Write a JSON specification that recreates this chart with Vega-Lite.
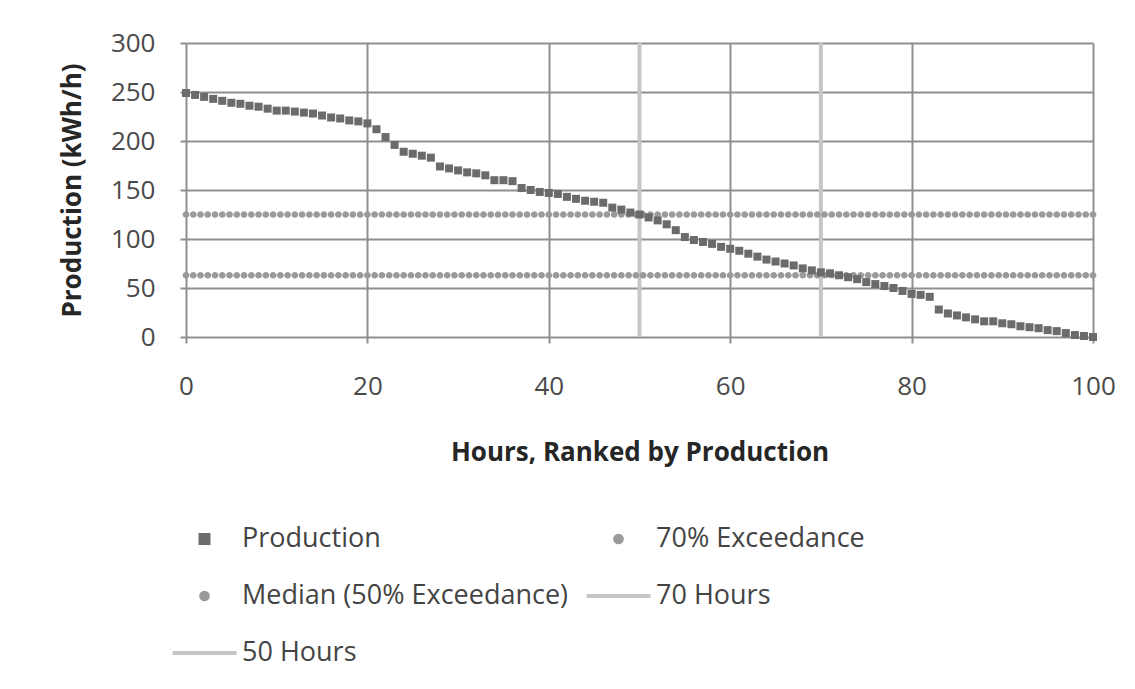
{
  "$schema": "https://vega.github.io/schema/vega-lite/v6.json",
  "width": 907,
  "height": 294,
  "autosize": {"type": "none"},
  "padding": {"left": 186, "top": 43, "right": 42, "bottom": 352},
  "background": "white",
  "config": {
    "font": "Open Sans",
    "view": {"stroke": null},
    "axis": {
      "grid": true,
      "gridColor": "#8f8f8f",
      "gridWidth": 2,
      "tickColor": "#8f8f8f",
      "tickWidth": 2,
      "tickSize": 6,
      "domain": false,
      "labelFont": "Open Sans",
      "labelFontSize": 26,
      "labelColor": "#4a4a4a",
      "labelFlush": false,
      "titleFont": "Open Sans",
      "titleFontSize": 26,
      "titleFontWeight": "bold",
      "titleColor": "#262626"
    },
    "legend": {
      "orient": "none",
      "direction": "horizontal",
      "legendX": -15.5,
      "legendY": 462,
      "columns": 2,
      "columnPadding": 10,
      "rowPadding": 10,
      "labelFont": "Open Sans",
      "labelFontSize": 27,
      "labelColor": "#444444",
      "labelOffset": 3.5,
      "labelLimit": 0,
      "padding": 0,
      "symbolSize": 4096,
      "symbolStrokeWidth": 4
    }
  },
  "datasets": {
    "hours": [
      {"h": 70, "s": "70 Hours"},
      {"h": 50, "s": "50 Hours"}
    ],
    "production": [
      {"h": 0, "v": 249}, {"h": 1, "v": 247}, {"h": 2, "v": 245}, {"h": 3, "v": 243}, {"h": 4, "v": 241},
      {"h": 5, "v": 239}, {"h": 6, "v": 238}, {"h": 7, "v": 236}, {"h": 8, "v": 235}, {"h": 9, "v": 233},
      {"h": 10, "v": 231}, {"h": 11, "v": 231}, {"h": 12, "v": 230}, {"h": 13, "v": 229}, {"h": 14, "v": 228},
      {"h": 15, "v": 226}, {"h": 16, "v": 224}, {"h": 17, "v": 223}, {"h": 18, "v": 221}, {"h": 19, "v": 220},
      {"h": 20, "v": 218}, {"h": 21, "v": 212}, {"h": 22, "v": 204}, {"h": 23, "v": 196}, {"h": 24, "v": 189},
      {"h": 25, "v": 187}, {"h": 26, "v": 185}, {"h": 27, "v": 183}, {"h": 28, "v": 174}, {"h": 29, "v": 172},
      {"h": 30, "v": 170}, {"h": 31, "v": 168}, {"h": 32, "v": 167}, {"h": 33, "v": 165}, {"h": 34, "v": 160},
      {"h": 35, "v": 160}, {"h": 36, "v": 159}, {"h": 37, "v": 152}, {"h": 38, "v": 150}, {"h": 39, "v": 148},
      {"h": 40, "v": 147}, {"h": 41, "v": 146}, {"h": 42, "v": 143}, {"h": 43, "v": 141}, {"h": 44, "v": 139},
      {"h": 45, "v": 138}, {"h": 46, "v": 137}, {"h": 47, "v": 132}, {"h": 48, "v": 130}, {"h": 49, "v": 127},
      {"h": 50, "v": 125}, {"h": 51, "v": 122}, {"h": 52, "v": 119}, {"h": 53, "v": 115}, {"h": 54, "v": 109},
      {"h": 55, "v": 102}, {"h": 56, "v": 99}, {"h": 57, "v": 97}, {"h": 58, "v": 95}, {"h": 59, "v": 92},
      {"h": 60, "v": 90}, {"h": 61, "v": 88}, {"h": 62, "v": 85}, {"h": 63, "v": 82}, {"h": 64, "v": 79},
      {"h": 65, "v": 77}, {"h": 66, "v": 75}, {"h": 67, "v": 73}, {"h": 68, "v": 70}, {"h": 69, "v": 68},
      {"h": 70, "v": 66}, {"h": 71, "v": 65}, {"h": 72, "v": 63}, {"h": 73, "v": 61}, {"h": 74, "v": 59},
      {"h": 75, "v": 56}, {"h": 76, "v": 54}, {"h": 77, "v": 52}, {"h": 78, "v": 50}, {"h": 79, "v": 47},
      {"h": 80, "v": 44}, {"h": 81, "v": 43}, {"h": 82, "v": 41}, {"h": 83, "v": 28}, {"h": 84, "v": 24},
      {"h": 85, "v": 22}, {"h": 86, "v": 20}, {"h": 87, "v": 18}, {"h": 88, "v": 16}, {"h": 89, "v": 16},
      {"h": 90, "v": 14}, {"h": 91, "v": 13}, {"h": 92, "v": 11}, {"h": 93, "v": 10}, {"h": 94, "v": 9},
      {"h": 95, "v": 7}, {"h": 96, "v": 6}, {"h": 97, "v": 4}, {"h": 98, "v": 2}, {"h": 99, "v": 1},
      {"h": 100, "v": 0}
    ],
    "median": [
      {"h": 0, "v": 125}, {"h": 0.8, "v": 125}, {"h": 1.6, "v": 125}, {"h": 2.4, "v": 125}, {"h": 3.2, "v": 125},
      {"h": 4, "v": 125}, {"h": 4.8, "v": 125}, {"h": 5.6, "v": 125}, {"h": 6.4, "v": 125}, {"h": 7.2, "v": 125},
      {"h": 8, "v": 125}, {"h": 8.8, "v": 125}, {"h": 9.6, "v": 125}, {"h": 10.4, "v": 125}, {"h": 11.2, "v": 125},
      {"h": 12, "v": 125}, {"h": 12.8, "v": 125}, {"h": 13.6, "v": 125}, {"h": 14.4, "v": 125}, {"h": 15.2, "v": 125},
      {"h": 16, "v": 125}, {"h": 16.8, "v": 125}, {"h": 17.6, "v": 125}, {"h": 18.4, "v": 125}, {"h": 19.2, "v": 125},
      {"h": 20, "v": 125}, {"h": 20.8, "v": 125}, {"h": 21.6, "v": 125}, {"h": 22.4, "v": 125}, {"h": 23.2, "v": 125},
      {"h": 24, "v": 125}, {"h": 24.8, "v": 125}, {"h": 25.6, "v": 125}, {"h": 26.4, "v": 125}, {"h": 27.2, "v": 125},
      {"h": 28, "v": 125}, {"h": 28.8, "v": 125}, {"h": 29.6, "v": 125}, {"h": 30.4, "v": 125}, {"h": 31.2, "v": 125},
      {"h": 32, "v": 125}, {"h": 32.8, "v": 125}, {"h": 33.6, "v": 125}, {"h": 34.4, "v": 125}, {"h": 35.2, "v": 125},
      {"h": 36, "v": 125}, {"h": 36.8, "v": 125}, {"h": 37.6, "v": 125}, {"h": 38.4, "v": 125}, {"h": 39.2, "v": 125},
      {"h": 40, "v": 125}, {"h": 40.8, "v": 125}, {"h": 41.6, "v": 125}, {"h": 42.4, "v": 125}, {"h": 43.2, "v": 125},
      {"h": 44, "v": 125}, {"h": 44.8, "v": 125}, {"h": 45.6, "v": 125}, {"h": 46.4, "v": 125}, {"h": 47.2, "v": 125},
      {"h": 48, "v": 125}, {"h": 48.8, "v": 125}, {"h": 49.6, "v": 125}, {"h": 50.4, "v": 125}, {"h": 51.2, "v": 125},
      {"h": 52, "v": 125}, {"h": 52.8, "v": 125}, {"h": 53.6, "v": 125}, {"h": 54.4, "v": 125}, {"h": 55.2, "v": 125},
      {"h": 56, "v": 125}, {"h": 56.8, "v": 125}, {"h": 57.6, "v": 125}, {"h": 58.4, "v": 125}, {"h": 59.2, "v": 125},
      {"h": 60, "v": 125}, {"h": 60.8, "v": 125}, {"h": 61.6, "v": 125}, {"h": 62.4, "v": 125}, {"h": 63.2, "v": 125},
      {"h": 64, "v": 125}, {"h": 64.8, "v": 125}, {"h": 65.6, "v": 125}, {"h": 66.4, "v": 125}, {"h": 67.2, "v": 125},
      {"h": 68, "v": 125}, {"h": 68.8, "v": 125}, {"h": 69.6, "v": 125}, {"h": 70.4, "v": 125}, {"h": 71.2, "v": 125},
      {"h": 72, "v": 125}, {"h": 72.8, "v": 125}, {"h": 73.6, "v": 125}, {"h": 74.4, "v": 125}, {"h": 75.2, "v": 125},
      {"h": 76, "v": 125}, {"h": 76.8, "v": 125}, {"h": 77.6, "v": 125}, {"h": 78.4, "v": 125}, {"h": 79.2, "v": 125},
      {"h": 80, "v": 125}, {"h": 80.8, "v": 125}, {"h": 81.6, "v": 125}, {"h": 82.4, "v": 125}, {"h": 83.2, "v": 125},
      {"h": 84, "v": 125}, {"h": 84.8, "v": 125}, {"h": 85.6, "v": 125}, {"h": 86.4, "v": 125}, {"h": 87.2, "v": 125},
      {"h": 88, "v": 125}, {"h": 88.8, "v": 125}, {"h": 89.6, "v": 125}, {"h": 90.4, "v": 125}, {"h": 91.2, "v": 125},
      {"h": 92, "v": 125}, {"h": 92.8, "v": 125}, {"h": 93.6, "v": 125}, {"h": 94.4, "v": 125}, {"h": 95.2, "v": 125},
      {"h": 96, "v": 125}, {"h": 96.8, "v": 125}, {"h": 97.6, "v": 125}, {"h": 98.4, "v": 125}, {"h": 99.2, "v": 125},
      {"h": 100, "v": 125}
    ],
    "e70": [
      {"h": 0, "v": 63}, {"h": 0.8, "v": 63}, {"h": 1.6, "v": 63}, {"h": 2.4, "v": 63}, {"h": 3.2, "v": 63},
      {"h": 4, "v": 63}, {"h": 4.8, "v": 63}, {"h": 5.6, "v": 63}, {"h": 6.4, "v": 63}, {"h": 7.2, "v": 63},
      {"h": 8, "v": 63}, {"h": 8.8, "v": 63}, {"h": 9.6, "v": 63}, {"h": 10.4, "v": 63}, {"h": 11.2, "v": 63},
      {"h": 12, "v": 63}, {"h": 12.8, "v": 63}, {"h": 13.6, "v": 63}, {"h": 14.4, "v": 63}, {"h": 15.2, "v": 63},
      {"h": 16, "v": 63}, {"h": 16.8, "v": 63}, {"h": 17.6, "v": 63}, {"h": 18.4, "v": 63}, {"h": 19.2, "v": 63},
      {"h": 20, "v": 63}, {"h": 20.8, "v": 63}, {"h": 21.6, "v": 63}, {"h": 22.4, "v": 63}, {"h": 23.2, "v": 63},
      {"h": 24, "v": 63}, {"h": 24.8, "v": 63}, {"h": 25.6, "v": 63}, {"h": 26.4, "v": 63}, {"h": 27.2, "v": 63},
      {"h": 28, "v": 63}, {"h": 28.8, "v": 63}, {"h": 29.6, "v": 63}, {"h": 30.4, "v": 63}, {"h": 31.2, "v": 63},
      {"h": 32, "v": 63}, {"h": 32.8, "v": 63}, {"h": 33.6, "v": 63}, {"h": 34.4, "v": 63}, {"h": 35.2, "v": 63},
      {"h": 36, "v": 63}, {"h": 36.8, "v": 63}, {"h": 37.6, "v": 63}, {"h": 38.4, "v": 63}, {"h": 39.2, "v": 63},
      {"h": 40, "v": 63}, {"h": 40.8, "v": 63}, {"h": 41.6, "v": 63}, {"h": 42.4, "v": 63}, {"h": 43.2, "v": 63},
      {"h": 44, "v": 63}, {"h": 44.8, "v": 63}, {"h": 45.6, "v": 63}, {"h": 46.4, "v": 63}, {"h": 47.2, "v": 63},
      {"h": 48, "v": 63}, {"h": 48.8, "v": 63}, {"h": 49.6, "v": 63}, {"h": 50.4, "v": 63}, {"h": 51.2, "v": 63},
      {"h": 52, "v": 63}, {"h": 52.8, "v": 63}, {"h": 53.6, "v": 63}, {"h": 54.4, "v": 63}, {"h": 55.2, "v": 63},
      {"h": 56, "v": 63}, {"h": 56.8, "v": 63}, {"h": 57.6, "v": 63}, {"h": 58.4, "v": 63}, {"h": 59.2, "v": 63},
      {"h": 60, "v": 63}, {"h": 60.8, "v": 63}, {"h": 61.6, "v": 63}, {"h": 62.4, "v": 63}, {"h": 63.2, "v": 63},
      {"h": 64, "v": 63}, {"h": 64.8, "v": 63}, {"h": 65.6, "v": 63}, {"h": 66.4, "v": 63}, {"h": 67.2, "v": 63},
      {"h": 68, "v": 63}, {"h": 68.8, "v": 63}, {"h": 69.6, "v": 63}, {"h": 70.4, "v": 63}, {"h": 71.2, "v": 63},
      {"h": 72, "v": 63}, {"h": 72.8, "v": 63}, {"h": 73.6, "v": 63}, {"h": 74.4, "v": 63}, {"h": 75.2, "v": 63},
      {"h": 76, "v": 63}, {"h": 76.8, "v": 63}, {"h": 77.6, "v": 63}, {"h": 78.4, "v": 63}, {"h": 79.2, "v": 63},
      {"h": 80, "v": 63}, {"h": 80.8, "v": 63}, {"h": 81.6, "v": 63}, {"h": 82.4, "v": 63}, {"h": 83.2, "v": 63},
      {"h": 84, "v": 63}, {"h": 84.8, "v": 63}, {"h": 85.6, "v": 63}, {"h": 86.4, "v": 63}, {"h": 87.2, "v": 63},
      {"h": 88, "v": 63}, {"h": 88.8, "v": 63}, {"h": 89.6, "v": 63}, {"h": 90.4, "v": 63}, {"h": 91.2, "v": 63},
      {"h": 92, "v": 63}, {"h": 92.8, "v": 63}, {"h": 93.6, "v": 63}, {"h": 94.4, "v": 63}, {"h": 95.2, "v": 63},
      {"h": 96, "v": 63}, {"h": 96.8, "v": 63}, {"h": 97.6, "v": 63}, {"h": 98.4, "v": 63}, {"h": 99.2, "v": 63},
      {"h": 100, "v": 63}
    ]
  },
  "layer": [
    {
      "data": {"name": "hours"},
      "mark": {"type": "rule", "strokeWidth": 4},
      "encoding": {
        "x": {
          "field": "h", "type": "quantitative",
          "scale": {"domain": [0, 100], "nice": false},
          "axis": {"values": [0, 20, 40, 60, 80, 100], "labelPadding": 30, "title": "Hours, Ranked  by Production", "titlePadding": 40}
        },
        "color": {
          "field": "s", "type": "nominal", "title": null,
          "scale": {
            "domain": ["Production", "70% Exceedance", "Median (50% Exceedance)", "70 Hours", "50 Hours"],
            "range": ["#6b6b6b", "#9a9a9a", "#9a9a9a", "#c6c6c6", "#c6c6c6"]
          },
          "legend": {
            "title": null,
            "encode": {
              "symbols": {
                "update": {
                  "stroke": [
                    {"test": "datum.value === '70 Hours' || datum.value === '50 Hours'", "scale": "color", "field": "value"},
                    {"value": "transparent"}
                  ]
                }
              }
            }
          }
        }
      }
    },
    {
      "data": {"name": "e70"},
      "mark": {"type": "point", "filled": true, "opacity": 1, "size": 4096},
      "encoding": {
        "x": {"field": "h", "type": "quantitative"},
        "y": {
          "field": "v", "type": "quantitative",
          "scale": {"domain": [0, 300], "nice": false},
          "axis": {"values": [0, 50, 100, 150, 200, 250, 300], "labelPadding": 25, "title": "Production (kWh/h)", "titlePadding": 25}
        },
        "color": {"datum": "70% Exceedance", "type": "nominal", "title": null},
        "shape": {
          "datum": "70% Exceedance", "type": "nominal", "title": null,
          "scale": {
            "domain": ["Production", "70% Exceedance", "Median (50% Exceedance)", "70 Hours", "50 Hours"],
            "range": [
              "M-0.125,-0.125H0.125V0.125H-0.125Z",
              "M0.105,0A0.105,0.105,0,1,1,-0.105,0A0.105,0.105,0,1,1,0.105,0Z",
              "M0.105,0A0.105,0.105,0,1,1,-0.105,0A0.105,0.105,0,1,1,0.105,0Z",
              "M-1,0L1,0",
              "M-1,0L1,0"
            ]
          }
        }
      }
    },
    {
      "data": {"name": "median"},
      "mark": {"type": "point", "filled": true, "opacity": 1, "size": 4096},
      "encoding": {
        "x": {"field": "h", "type": "quantitative"},
        "y": {"field": "v", "type": "quantitative"},
        "color": {"datum": "Median (50% Exceedance)", "type": "nominal", "title": null},
        "shape": {"datum": "Median (50% Exceedance)", "type": "nominal", "title": null}
      }
    },
    {
      "data": {"name": "production"},
      "mark": {"type": "point", "filled": true, "opacity": 1, "size": 4096},
      "encoding": {
        "x": {"field": "h", "type": "quantitative"},
        "y": {"field": "v", "type": "quantitative"},
        "color": {"datum": "Production", "type": "nominal", "title": null},
        "shape": {"datum": "Production", "type": "nominal", "title": null}
      }
    }
  ]
}
